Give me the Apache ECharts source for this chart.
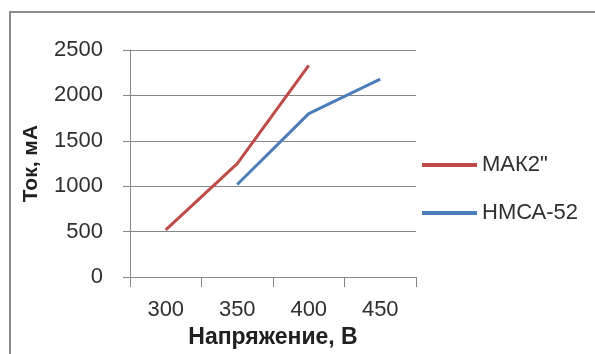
<!DOCTYPE html>
<html>
<head>
<meta charset="utf-8">
<script src="https://cdn.jsdelivr.net/npm/echarts@6/dist/echarts.min.js"></script>
<style>html,body{margin:0;padding:0;background:#fff}#c{width:595px;height:354px}</style>
</head>
<body>
<div id="c"></div>
<script>
var categories = ['300', '350', '400', '450'];
var seriesNames = ['МАК2"', 'НМСА-52'];
var mak2 = [520, 1250, 2330, null];
var nmca52 = [null, 1020, 1800, 2180];
var xName = 'Напряжение, В';
var yName = 'Ток, мА';

var chart = echarts.init(document.getElementById('c'), null, {renderer: 'canvas'});
var FONT = '"Liberation Sans", Arial, sans-serif';
var axisGray = '#868686';
chart.setOption({
  animation: false,
  backgroundColor: '#fff',
  textStyle: {fontFamily: FONT},
  graphic: [{
    type: 'rect', silent: true,
    shape: {x: 10, y: 12, width: 620, height: 400},
    style: {fill: 'none', stroke: '#8c8c8c', lineWidth: 2}
  }],
  grid: {left: 130, right: 179, top: 50, bottom: 73, containLabel: false},
  legend: {
    orient: 'vertical', left: 417, top: 149,
    itemWidth: 55, itemHeight: 4, itemGap: 26, icon: 'rect',
    textStyle: {fontFamily: FONT, fontSize: 22, color: '#303030'},
    data: seriesNames
  },
  xAxis: {
    type: 'category', data: categories, boundaryGap: true,
    name: xName, nameLocation: 'middle', nameGap: 42,
    nameTextStyle: {fontFamily: FONT, fontSize: 23, fontWeight: 'bold', color: '#202020'},
    axisLine: {lineStyle: {color: axisGray, width: 1}},
    axisTick: {show: true, length: 10, lineStyle: {color: axisGray}},
    axisLabel: {fontFamily: FONT, fontSize: 22, color: '#303030', margin: 22}
  },
  yAxis: {
    type: 'value', min: 0, max: 2500, interval: 500,
    name: yName, nameLocation: 'middle', nameGap: 88, nameRotate: 90,
    nameTextStyle: {fontFamily: FONT, fontSize: 21, fontWeight: 'bold', color: '#202020'},
    axisLine: {show: true, lineStyle: {color: axisGray, width: 1}},
    axisTick: {show: true, length: 7, lineStyle: {color: axisGray}},
    axisLabel: {fontFamily: FONT, fontSize: 22, color: '#303030', margin: 27,
      formatter: function (v) { return String(v); }},
    splitLine: {show: true, lineStyle: {color: axisGray, width: 1}}
  },
  series: [
    {name: seriesNames[0], type: 'line', data: mak2, showSymbol: false, symbol: 'none',
     lineStyle: {width: 3, color: '#BE4B48'}, itemStyle: {color: '#BE4B48'}},
    {name: seriesNames[1], type: 'line', data: nmca52, showSymbol: false, symbol: 'none',
     lineStyle: {width: 3, color: '#4A7EBB'}, itemStyle: {color: '#4A7EBB'}}
  ]
});
</script>
</body>
</html>
